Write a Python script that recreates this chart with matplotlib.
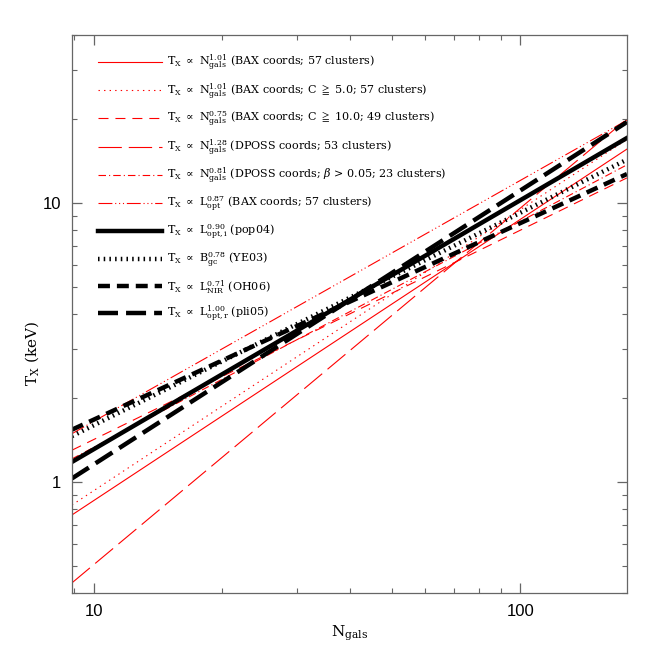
import matplotlib
matplotlib.use("Agg")
import matplotlib.pyplot as plt
from matplotlib.ticker import FixedLocator, FixedFormatter, NullFormatter, LogLocator

plt.rcParams["lines.scale_dashes"] = False
plt.rcParams["mathtext.fontset"] = "dejavuserif"

# line end points (N_gals at the axis edges, T_X in keV)
n_ends = [8.9, 178]

tx_bax = [0.762, 15.6]
tx_bax_c5 = [0.827, 16.9]
tx_bax_c10 = [1.30, 12.3]
tx_dposs = [0.435, 20.0]
tx_dposs_beta = [1.21, 13.7]
tx_lopt = [1.49, 19.8]

tx_pop04 = [1.18, 17.1]
tx_ye03 = [1.46, 14.3]
tx_oh06 = [1.54, 12.7]
tx_pli05 = [1.03, 19.5]

labels = [
    r"$\mathrm{T_X\ \propto\ N^{1.01}_{gals}}$ (BAX coords; 57 clusters)",
    r"$\mathrm{T_X\ \propto\ N^{1.01}_{gals}}$ (BAX coords; C $\geqq$ 5.0; 57 clusters)",
    r"$\mathrm{T_X\ \propto\ N^{0.75}_{gals}}$ (BAX coords; C $\geqq$ 10.0; 49 clusters)",
    r"$\mathrm{T_X\ \propto\ N^{1.28}_{gals}}$ (DPOSS coords; 53 clusters)",
    r"$\mathrm{T_X\ \propto\ N^{0.81}_{gals}}$ (DPOSS coords; $\beta$ > 0.05; 23 clusters)",
    r"$\mathrm{T_X\ \propto\ L^{0.87}_{opt}}$ (BAX coords; 57 clusters)",
    r"$\mathrm{T_X\ \propto\ L^{0.90}_{opt,i}}$ (pop04)",
    r"$\mathrm{T_X\ \propto\ B^{0.78}_{gc}}$ (YE03)",
    r"$\mathrm{T_X\ \propto\ L^{0.71}_{NIR}}$ (OH06)",
    r"$\mathrm{T_X\ \propto\ L^{1.00}_{opt,r}}$ (pli05)",
]

fig = plt.figure(figsize=(6.64, 6.64), dpi=100)
ax = fig.add_axes([0.1084, 0.1069, 0.8358, 0.8404])

red_lw = 0.8
blk_lw = 3.2
ax.plot(n_ends, tx_bax, color="red", lw=red_lw, ls="-", label=labels[0])
ax.plot(n_ends, tx_bax_c5, color="red", lw=red_lw, ls=(0, (1.0, 3.0)), label=labels[1])
ax.plot(n_ends, tx_bax_c10, color="red", lw=red_lw, ls=(0, (7.2, 5.0)), label=labels[2])
ax.plot(n_ends, tx_dposs, color="red", lw=red_lw, ls=(0, (16.8, 5.0)), label=labels[3])
ax.plot(n_ends, tx_dposs_beta, color="red", lw=red_lw, ls=(0, (5.4, 2.2, 0.8, 2.2)), label=labels[4])
ax.plot(n_ends, tx_lopt, color="red", lw=red_lw,
        ls=(0, (10, 2, 0.8, 2, 0.8, 2, 0.8, 2)), label=labels[5])

ax.plot(n_ends, tx_pop04, color="black", lw=blk_lw, ls="-", label=labels[6])
ax.plot(n_ends, tx_ye03, color="black", lw=blk_lw, ls=(0, (1.1, 3.0)), label=labels[7])
ax.plot(n_ends, tx_oh06, color="black", lw=blk_lw, ls=(0, (8.6, 5.0)), label=labels[8])
ax.plot(n_ends, tx_pli05, color="black", lw=blk_lw, ls=(0, (14.4, 5.8)), label=labels[9])

ax.set_xscale("log")
ax.set_yscale("log")
ax.set_xlim(n_ends[0], n_ends[1])
ax.set_ylim(0.4, 40)

ax.xaxis.set_major_locator(FixedLocator([10, 100]))
ax.xaxis.set_major_formatter(FixedFormatter(["10", "100"]))
ax.yaxis.set_major_locator(FixedLocator([1, 10]))
ax.yaxis.set_major_formatter(FixedFormatter(["1", "10"]))
ax.xaxis.set_minor_locator(LogLocator(base=10, subs=range(2, 10)))
ax.yaxis.set_minor_locator(LogLocator(base=10, subs=range(2, 10)))
ax.xaxis.set_minor_formatter(NullFormatter())
ax.yaxis.set_minor_formatter(NullFormatter())

ax.tick_params(which="both", direction="in", top=True, right=True, color="#666666",
               labelsize=12, pad=8)
ax.tick_params(which="major", length=7, width=0.9)
ax.tick_params(which="minor", length=3.5, width=0.8)
for lab in ax.get_xticklabels() + ax.get_yticklabels():
    lab.set_family("Liberation Sans")
for sp in ax.spines.values():
    sp.set_color("#666666")
    sp.set_linewidth(0.9)

ax.set_xlabel(r"$\mathrm{N_{gals}}$", fontsize=11, labelpad=3)
ax.set_ylabel(r"$\mathrm{T_X}$ (keV)", fontsize=11, family="DejaVu Serif")
ax.yaxis.set_label_coords(-0.055, 0.43)

ax.legend(loc="upper left", bbox_to_anchor=(0.047, 0.968), frameon=False,
          prop={"family": "DejaVu Serif", "size": 8},
          handlelength=5.75, handletextpad=0.45, labelspacing=0.75,
          borderpad=0, borderaxespad=0)

fig.savefig("out.png", dpi=100)
